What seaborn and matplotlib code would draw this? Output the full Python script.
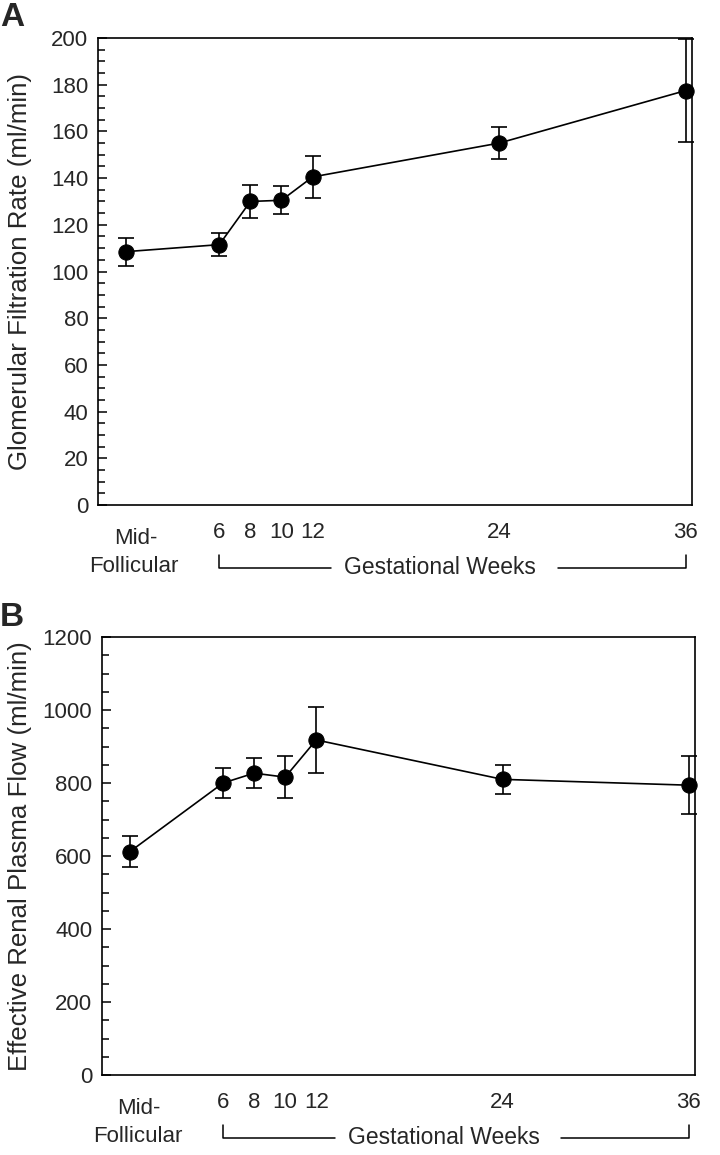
import numpy as np
import pandas as pd
import matplotlib
matplotlib.use("Agg")
import matplotlib.pyplot as plt
from matplotlib.ticker import MultipleLocator
import seaborn as sns

# data (weeks: 0 = mid-follicular)
weeks = [0, 6, 8, 10, 12, 24, 36]
week_labels = ["", "6", "8", "10", "12", "24", "36"]

gfr_mean = [108.5, 111.5, 130, 130.5, 140.5, 155, 177.5]
gfr_err = [6, 5, 7, 6, 9, 7, 22]

erpf_mean = [612, 800, 827, 816, 918, 810, 794]
erpf_err = [43, 40, 42, 57, 90, 39, 80]

sns.set_theme(style="white")
plt.rcParams["font.family"] = ["Liberation Sans", "DejaVu Sans"]

W, H = 720, 1155
fig = plt.figure(figsize=(W / 100, H / 100), dpi=100)
fig.patch.set_facecolor("white")

axA = fig.add_axes([98 / W, 1 - 505 / H, (692 - 98) / W, (505 - 38) / H])
axB = fig.add_axes([102 / W, 1 - 1075 / H, (695 - 102) / W, (1075 - 637) / H])


def draw_panel(ax, means, errs, ylim, major, minor, ylabel, letter):
    df = pd.DataFrame({"week": weeks, "value": means})
    ax.errorbar(weeks, means, yerr=errs, fmt="none", ecolor="black",
                elinewidth=1.2, capsize=6, capthick=1.2, zorder=2, clip_on=False)
    sns.lineplot(data=df, x="week", y="value", ax=ax, color="black",
                 linewidth=1.2, marker="o", markersize=11,
                 markeredgecolor="black", markerfacecolor="black", zorder=3)
    for ln in ax.lines:
        ln.set_clip_on(False)

    ax.set_xlim(-1.8, 36.4)
    ax.set_ylim(*ylim)
    ax.set_xticks(weeks, labels=week_labels)
    ax.yaxis.set_major_locator(MultipleLocator(major))
    ax.yaxis.set_minor_locator(MultipleLocator(minor))
    ax.tick_params(axis="x", direction="in", length=12, width=1.1,
                   labelsize=16, pad=12, color="black")
    ax.tick_params(axis="y", which="major", direction="in", length=6.5,
                   width=1.1, labelsize=16, pad=7, color="black", left=True)
    ax.tick_params(axis="y", which="minor", direction="in", length=5,
                   width=1.1, color="black", left=True)
    for s in ax.spines.values():
        s.set_visible(True)
        s.set_color("black")
        s.set_linewidth(1.2)
    ax.set_xlabel("")
    ax.set_ylabel(ylabel, fontsize=18.6)
    pos = ax.get_position()
    ax.yaxis.set_label_coords(-(pos.x0 * W - 32) / (pos.width * W), 0.5)

    # annotations below the x axis (offsets in pixels)
    hpx = pos.height * H
    tr = ax.get_xaxis_transform()
    f = lambda px: -px / hpx
    ax.text(0.6, f(33), "Mid-", transform=tr, ha="center", va="center", fontsize=16)
    ax.text(0.5, f(62), "Follicular", transform=tr, ha="center", va="center", fontsize=16)
    ax.plot([6, 6, 13.2], [f(50), f(63), f(63)], transform=tr, color="black",
            linewidth=1.1, clip_on=False)
    ax.plot([27.8, 36, 36], [f(63), f(63), f(50)], transform=tr, color="black",
            linewidth=1.1, clip_on=False)
    ax.text(20.2, f(63), "Gestational Weeks", transform=tr, ha="center",
            va="center", fontsize=16.5)

    fig.text(0, pos.y1 + 20 / H, letter, fontsize=24,
             fontweight="bold", ha="left", va="center")


draw_panel(axA, gfr_mean, gfr_err, (0, 200), 20, 5,
           "Glomerular Filtration Rate (ml/min)", "A")
draw_panel(axB, erpf_mean, erpf_err, (0, 1200), 200, 50,
           "Effective Renal Plasma Flow (ml/min)", "B")

fig.savefig("out.png", dpi=100, facecolor="white")
